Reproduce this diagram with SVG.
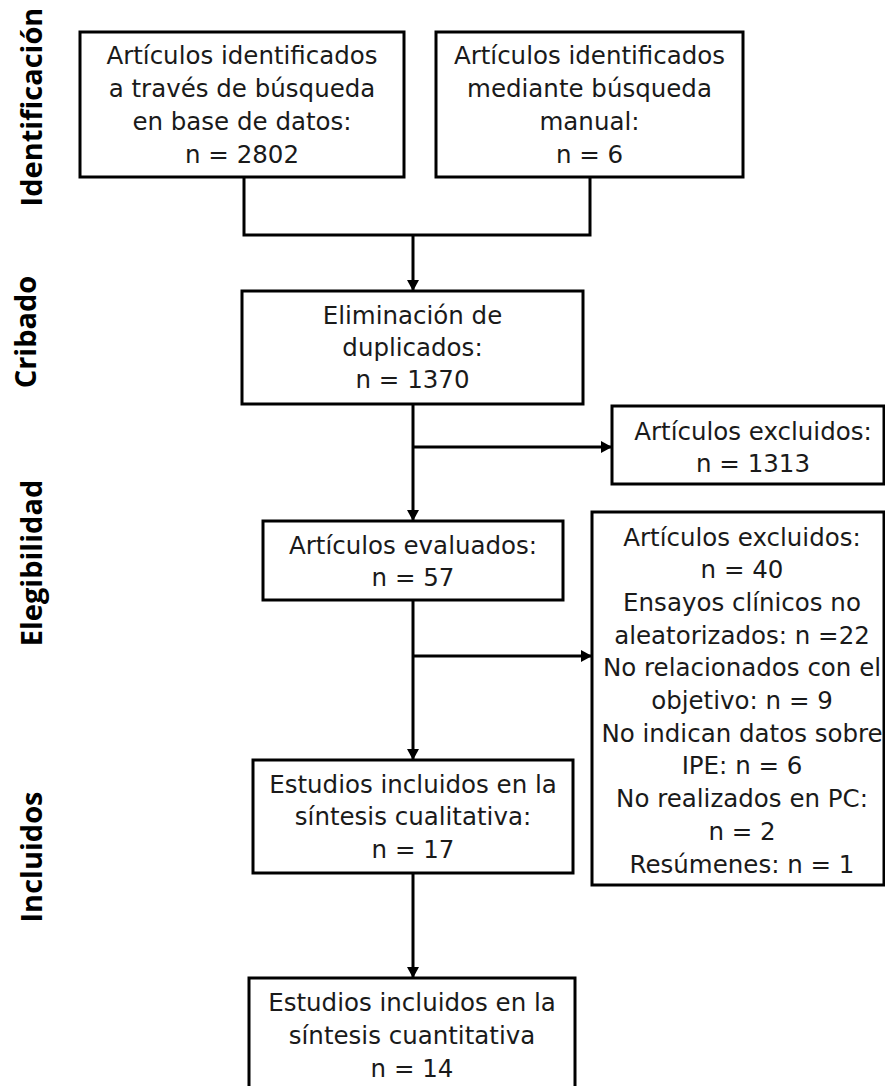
<svg xmlns="http://www.w3.org/2000/svg" width="885" height="1086" viewBox="0 0 885 1086">
<style>
.box{fill:#fff;stroke:#000;stroke-width:3}
.t{font-family:"DejaVu Sans",sans-serif;font-size:24.5px;fill:#1a1a1a;text-anchor:middle;dominant-baseline:central}
.side{font-family:"Open Sans","Noto Sans",sans-serif;font-weight:bold;font-size:29px;fill:#000;text-anchor:middle}
.ln{fill:none;stroke:#000;stroke-width:3}
</style>
<defs>
<marker id="ah" markerWidth="11" markerHeight="12" refX="10" refY="6" orient="auto" markerUnits="userSpaceOnUse">
<path d="M0,0 L11,6 L0,12 Z" fill="#000"/>
</marker>
</defs>
<g id="labels">
<text class="side" transform="translate(42,107) rotate(-90)">Identificación</text>
<text class="side" transform="translate(36,332) rotate(-90)">Cribado</text>
<text class="side" transform="translate(42,563) rotate(-90)">Elegibilidad</text>
<text class="side" transform="translate(42,857) rotate(-90)">Incluidos</text>
</g>
<g id="connectors">
<path class="ln" d="M244,177 V235 H590 V177"/>
<path class="ln" d="M413,235 V290" marker-end="url(#ah)"/>
<path class="ln" d="M413,404 V520" marker-end="url(#ah)"/>
<path class="ln" d="M413,447 H611" marker-end="url(#ah)"/>
<path class="ln" d="M413,600 V759" marker-end="url(#ah)"/>
<path class="ln" d="M413,656 H591" marker-end="url(#ah)"/>
<path class="ln" d="M413,873 V977" marker-end="url(#ah)"/>
</g>
<g id="n1">
<rect class="box" x="80" y="32" width="324" height="145"/>
<text class="t" x="242" y="55">Artículos identificados</text>
<text class="t" x="242" y="88">a través de búsqueda</text>
<text class="t" x="242" y="121">en base de datos:</text>
<text class="t" x="242" y="154">n = 2802</text>
</g>
<g id="n2">
<rect class="box" x="436" y="32" width="307" height="145"/>
<text class="t" x="589.5" y="55">Artículos identificados</text>
<text class="t" x="589.5" y="88">mediante búsqueda</text>
<text class="t" x="589.5" y="121">manual:</text>
<text class="t" x="589.5" y="154">n = 6</text>
</g>
<g id="n3">
<rect class="box" x="242" y="291" width="341" height="113"/>
<text class="t" x="412.5" y="315">Eliminación de</text>
<text class="t" x="412.5" y="347">duplicados:</text>
<text class="t" x="412.5" y="379">n = 1370</text>
</g>
<g id="n4">
<rect class="box" x="612" y="406" width="272" height="78"/>
<text class="t" x="753" y="431">Artículos excluidos:</text>
<text class="t" x="753" y="463">n = 1313</text>
</g>
<g id="n5">
<rect class="box" x="263" y="521" width="300" height="79"/>
<text class="t" x="413" y="545">Artículos evaluados:</text>
<text class="t" x="413" y="577">n = 57</text>
</g>
<g id="n6">
<rect class="box" x="592" y="512" width="292" height="373"/>
<text class="t" x="742" y="537">Artículos excluidos:</text>
<text class="t" x="742" y="569.7">n = 40</text>
<text class="t" x="742" y="602.4">Ensayos clínicos no</text>
<text class="t" x="742" y="635.1">aleatorizados: n =22</text>
<text class="t" x="742" y="667.8">No relacionados con el</text>
<text class="t" x="742" y="700.5">objetivo: n = 9</text>
<text class="t" x="742" y="733.2">No indican datos sobre</text>
<text class="t" x="742" y="765.9">IPE: n = 6</text>
<text class="t" x="742" y="798.6">No realizados en PC:</text>
<text class="t" x="742" y="831.3">n = 2</text>
<text class="t" x="742" y="864">Resúmenes: n = 1</text>
</g>
<g id="n7">
<rect class="box" x="253" y="760" width="320" height="113"/>
<text class="t" x="413" y="784">Estudios incluidos en la</text>
<text class="t" x="413" y="816">síntesis cualitativa:</text>
<text class="t" x="413" y="849">n = 17</text>
</g>
<g id="n8">
<rect class="box" x="249" y="978" width="326" height="120"/>
<text class="t" x="412" y="1002">Estudios incluidos en la</text>
<text class="t" x="412" y="1035">síntesis cuantitativa</text>
<text class="t" x="412" y="1068">n = 14</text>
</g>
</svg>
